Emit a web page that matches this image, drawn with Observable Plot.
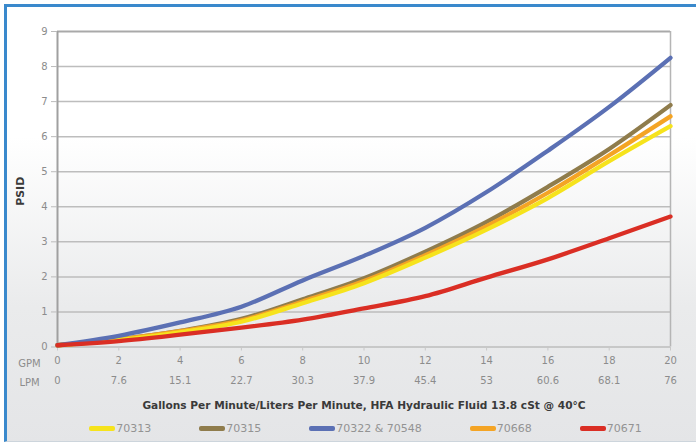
<!DOCTYPE html>
<html>
<head>
<meta charset="utf-8">
<script src="https://cdn.jsdelivr.net/npm/d3@7"></script>
<script src="https://cdn.jsdelivr.net/npm/@observablehq/plot@0.6"></script>
<style>
  html, body { margin: 0; padding: 0; background: #fff; }
  #page { position: relative; width: 696px; height: 447px; overflow: hidden; font-family: "DejaVu Sans", sans-serif; }
  #panel { position: absolute; left: 4px; top: 4px; width: 692px; height: 434px;
    border-top: 3px solid #3a89cc; border-left: 3px solid #3a89cc; border-bottom: 1px solid #cdd5dc;
    background: linear-gradient(to bottom, #ffffff 0px, #ffffff 130px, #eaebec 300px, #e4e5e7 437px); }
  #chart { position: absolute; left: 0; top: 0; }
  #legend { position: absolute; top: 422px; left: 2px; width: 727px; display: flex; justify-content: center; gap: 48px;
    font-size: 11px; color: #939393; }
  .item { display: flex; align-items: center; }
  .sw { display: inline-block; width: 26px; height: 5px; margin-right: 1px; border-radius: 2px; }
</style>
</head>
<body>
<div id="page">
  <div id="panel"></div>
  <div id="chart"></div>
  <div id="legend"></div>
</div>
<script>
const gpm = [0, 2, 4, 6, 8, 10, 12, 14, 16, 18, 20];
const lpmLabels = ["0", "7.6", "15.1", "22.7", "30.3", "37.9", "45.4", "53", "60.6", "68.1", "76"];
const yTicks = [0, 1, 2, 3, 4, 5, 6, 7, 8, 9];
const seriesNames = ["70313", "70315", "70322 & 70548", "70668", "70671"];
const seriesColors = ["#f6e31c", "#8f7c4c", "#5b70b4", "#f4a424", "#da2e24"];
const s70313 = [0.05, 0.20, 0.42, 0.72, 1.25, 1.82, 2.55, 3.35, 4.25, 5.30, 6.30];
const s70315 = [0.05, 0.22, 0.46, 0.80, 1.36, 1.96, 2.72, 3.57, 4.57, 5.65, 6.90];
const s70322 = [0.05, 0.32, 0.70, 1.15, 1.90, 2.60, 3.40, 4.42, 5.60, 6.85, 8.25];
const s70668 = [0.05, 0.22, 0.45, 0.76, 1.30, 1.88, 2.62, 3.45, 4.40, 5.47, 6.58];
const s70671 = [0.05, 0.17, 0.35, 0.55, 0.78, 1.10, 1.45, 1.98, 2.50, 3.10, 3.72];
const xTitle = "Gallons Per Minute/Liters Per Minute, HFA Hydraulic Fluid 13.8 cSt @ 40°C";
const yTitle = "PSID";

const seriesValues = [s70313, s70315, s70322, s70668, s70671];
const drawOrder = [1, 3, 0, 2, 4];
const rows = [];
for (const k of drawOrder) {
  gpm.forEach((g, i) => rows.push({series: seriesNames[k], gpm: g, psid: seriesValues[k][i]}));
}

const chart = Plot.plot({
  width: 696,
  height: 415,
  marginLeft: 57,
  marginRight: 26,
  marginTop: 31,
  marginBottom: 68.5,
  style: {background: "transparent", fontFamily: "DejaVu Sans, sans-serif", fontSize: "10px", color: "#888"},
  x: {domain: [0, 20]},
  y: {domain: [0, 9]},
  color: {domain: seriesNames, range: seriesColors},
  marks: [
    Plot.gridY(yTicks.slice(1, -1), {stroke: "#bdbdbd", strokeOpacity: 1, strokeWidth: 1.5}),
    Plot.ruleY([9], {stroke: "#a9a9a9", strokeWidth: 2}),
    Plot.ruleY([0], {stroke: "#bdbdbd", strokeWidth: 1.5}),
    Plot.ruleX([20], {stroke: "#b5b5b5", strokeWidth: 1.5}),
    Plot.ruleX([0], {stroke: "#a0a0a0", strokeWidth: 2}),
    Plot.axisY({ticks: yTicks, tickSize: 6, tickPadding: 4, stroke: "#bbb", fill: "#8c8c8c", label: null}),
    Plot.axisX({ticks: gpm, tickSize: 4, tickPadding: 6, stroke: "#c8c8c8", fill: "#8c8c8c", label: null}),
    Plot.axisX({ticks: gpm, tickFormat: (d, i) => lpmLabels[gpm.indexOf(d)], tickSize: 0, tickPadding: 30, fill: "#8c8c8c", label: null}),
    Plot.text(["GPM"], {frameAnchor: "bottom-left", dx: -28, dy: 16.5, textAnchor: "middle", lineAnchor: "middle", fill: "#8c8c8c", fontSize: 10}),
    Plot.text(["LPM"], {frameAnchor: "bottom-left", dx: -28, dy: 35.5, textAnchor: "middle", lineAnchor: "middle", fill: "#8c8c8c", fontSize: 10}),
    Plot.text([xTitle], {frameAnchor: "bottom", dy: 58.5, textAnchor: "middle", lineAnchor: "middle", fill: "#3a3a3a", fontWeight: "bold", fontSize: 10.6}),
    Plot.text([yTitle], {frameAnchor: "left", dx: -37, dy: 2, rotate: -90, textAnchor: "middle", lineAnchor: "middle", fill: "#3a3a3a", fontWeight: "bold", fontSize: 11}),
    Plot.line(rows, {x: "gpm", y: "psid", stroke: "series", z: "series", curve: "monotone-x", strokeWidth: 4.3, strokeLinecap: "round", strokeLinejoin: "round"})
  ]
});
document.getElementById("chart").appendChild(chart);

const legend = document.getElementById("legend");
seriesNames.forEach((name, i) => {
  const item = document.createElement("div");
  item.className = "item";
  const sw = document.createElement("span");
  sw.className = "sw";
  sw.style.background = seriesColors[i];
  const t = document.createElement("span");
  t.textContent = name;
  item.appendChild(sw);
  item.appendChild(t);
  legend.appendChild(item);
});
</script>
</body>
</html>
